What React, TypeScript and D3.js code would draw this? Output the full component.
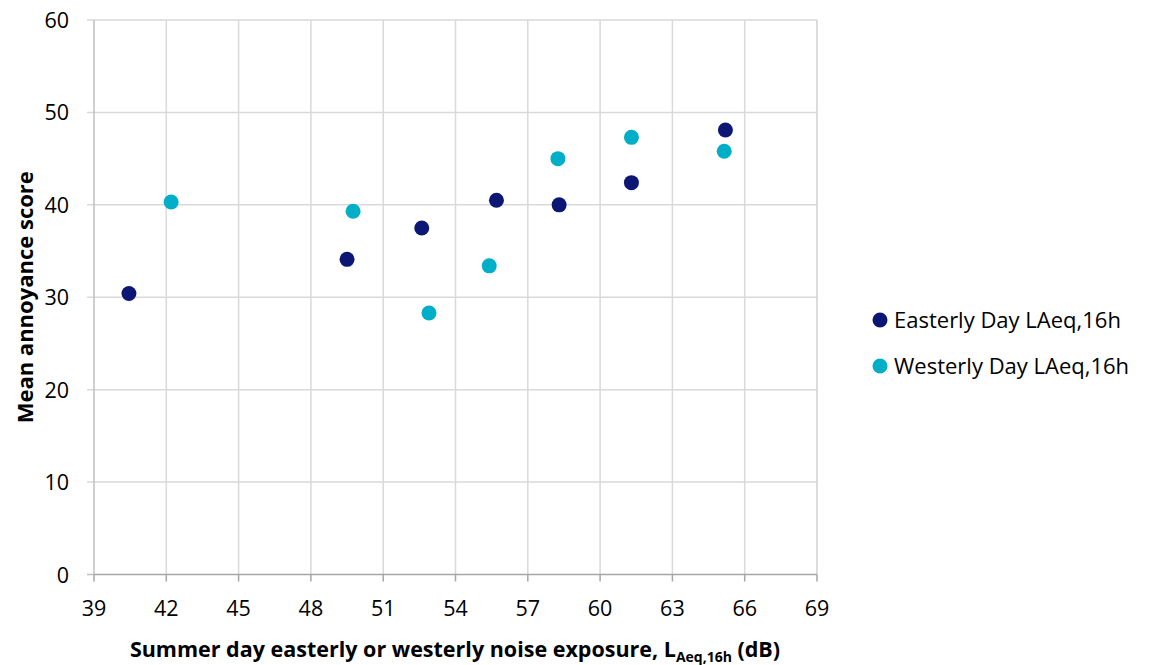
import React from "react";
import * as d3 from "d3";

const easterlyX = [40.45, 49.5, 52.6, 55.7, 58.3, 61.3, 65.2];
const easterlyY = [30.4, 34.1, 37.5, 40.5, 40.0, 42.4, 48.1];
const westerlyX = [42.2, 49.75, 52.9, 55.4, 58.25, 61.3, 65.15];
const westerlyY = [40.3, 39.3, 28.3, 33.4, 45.0, 47.3, 45.8];
const xTicks = [39, 42, 45, 48, 51, 54, 57, 60, 63, 66, 69];
const yTicks = [0, 10, 20, 30, 40, 50, 60];
const seriesNames = ["Easterly Day LAeq,16h", "Westerly Day LAeq,16h"];
const seriesColors = ["#0C1775", "#00AFC7"];

const W = 1153;
const H = 665;
const left = 94;
const right = 817;
const top = 20;
const bottom = 574.5;

export default function App() {
  const x = d3.scaleLinear().domain([39, 69]).range([left, right]);
  const y = d3.scaleLinear().domain([0, 60]).range([bottom, top]);
  const font = "'Open Sans', sans-serif";
  const series = [
    { name: seriesNames[0], color: seriesColors[0], xs: easterlyX, ys: easterlyY },
    { name: seriesNames[1], color: seriesColors[1], xs: westerlyX, ys: westerlyY },
  ];
  return (
    <svg width={W} height={H} style={{ position: "absolute", left: 0, top: 0, background: "#fff" }}>
      {/* grid */}
      {xTicks.slice(1, -1).map((t) => (
        <line key={"gx" + t} x1={x(t)} x2={x(t)} y1={top} y2={bottom} stroke="#D9D9D9" strokeWidth={1.5} />
      ))}
      {yTicks.slice(1).map((t) => (
        <line key={"gy" + t} x1={left - 7} x2={right} y1={y(t)} y2={y(t)} stroke="#D9D9D9" strokeWidth={1.5} />
      ))}
      <line x1={right} x2={right} y1={top} y2={bottom} stroke="#D0D0D0" strokeWidth={1.5} />
      {/* axes */}
      <line x1={left} x2={left} y1={top} y2={bottom} stroke="#BFBFBF" strokeWidth={1.5} />
      <line x1={left - 7} x2={left} y1={bottom} y2={bottom} stroke="#BFBFBF" strokeWidth={1.5} />
      <line x1={left} x2={right} y1={bottom} y2={bottom} stroke="#A6A6A6" strokeWidth={1.5} />
      {xTicks.map((t) => (
        <line key={"tx" + t} x1={x(t)} x2={x(t)} y1={bottom} y2={bottom + 7} stroke="#A6A6A6" strokeWidth={1.5} />
      ))}
      {xTicks.map((t) => (
        <text key={"lx" + t} x={x(t)} y={616} textAnchor="middle" fontFamily={font} fontSize={21.5} fill="#000">
          {t}
        </text>
      ))}
      {yTicks.map((t) => (
        <text key={"ly" + t} x={69} y={y(t) + 8} textAnchor="end" fontFamily={font} fontSize={21.5} fill="#000">
          {t}
        </text>
      ))}
      {/* points */}
      {series.map((s) =>
        s.xs.map((v, i) => (
          <circle key={s.name + i} cx={x(v)} cy={y(s.ys[i])} r={7.5} fill={s.color} />
        ))
      )}
      {/* axis titles */}
      <text x={455} y={657} textAnchor="middle" fontFamily={font} fontSize={21.5} fontWeight="bold" fill="#000">
        Summer day easterly or westerly noise exposure, L
        <tspan fontSize={14} dy={5}>Aeq,16h</tspan>
        <tspan dy={-5}> (dB)</tspan>
      </text>
      <text
        transform={`translate(33, ${(top + bottom) / 2}) rotate(-90)`}
        textAnchor="middle"
        fontFamily={font}
        fontSize={22}
        fontWeight="bold"
        fill="#000"
      >
        Mean annoyance score
      </text>
      {/* legend */}
      {series.map((s, i) => (
        <g key={"lg" + i} transform={`translate(880, ${320 + i * 46})`}>
          <circle cx={0} cy={0} r={7.5} fill={s.color} />
          <text x={14} y={8} fontFamily={font} fontSize={22} fill="#000">
            {s.name}
          </text>
        </g>
      ))}
    </svg>
  );
}
